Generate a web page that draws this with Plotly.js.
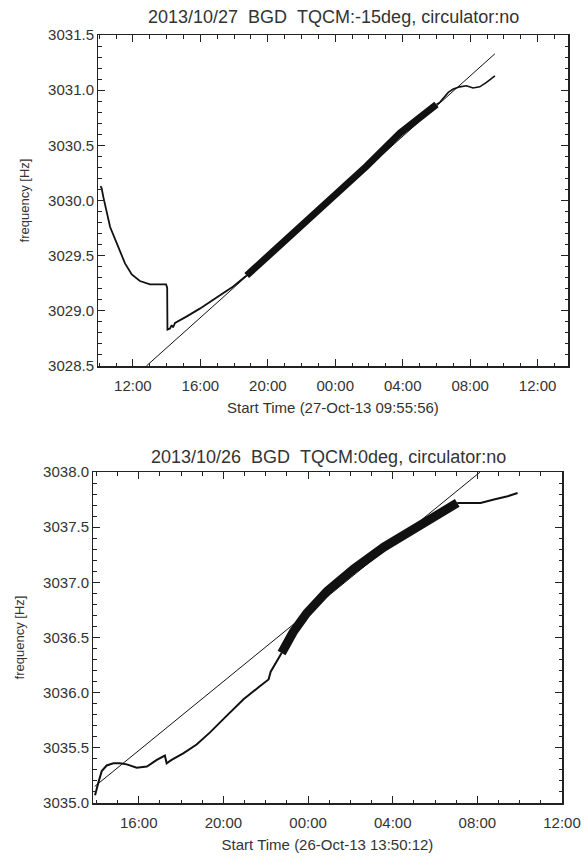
<!DOCTYPE html>
<html>
<head>
<meta charset="utf-8">
<script src="https://cdn.plot.ly/plotly-3.0.1.min.js"></script>
<style>html,body{margin:0;padding:0;background:#fff;}#chart{width:588px;height:861px;}</style>
</head>
<body>
<div id="chart"></div>
<script>
// ---------- Top panel: 2013/10/27, TQCM -15deg ----------
const topTitle = "2013/10/27\u00a0\u00a0BGD\u00a0\u00a0TQCM:-15deg, circulator:no";
const topXTitle = "Start Time (27-Oct-13 09:55:56)";
const topRange = ["2013-10-27 09:55:56", "2013-10-28 13:48:00"];
const topYRange = [3028.5, 3031.5];

// thin early part of the measurement
const topEarlyTimes = ["2013-10-27 10:05","2013-10-27 10:09","2013-10-27 10:15","2013-10-27 10:39","2013-10-27 11:08","2013-10-27 11:32","2013-10-27 11:56","2013-10-27 12:25","2013-10-27 13:01","2013-10-27 13:36","2013-10-27 13:58","2013-10-27 14:02","2013-10-27 14:03","2013-10-27 14:12","2013-10-27 14:18","2013-10-27 14:23","2013-10-27 14:30","2013-10-27 15:12","2013-10-27 15:58","2013-10-27 16:58","2013-10-27 17:57","2013-10-27 18:39","2013-10-27 18:45"];
const topEarlyFreq  = [3030.13,3030.11,3030.03,3029.76,3029.58,3029.43,3029.33,3029.27,3029.24,3029.24,3029.24,3029.21,3028.83,3028.84,3028.87,3028.85,3028.89,3028.95,3029.02,3029.12,3029.22,3029.31,3029.32];
// dense (noisy, thick) middle part
const topDenseTimes = ["2013-10-27 18:45","2013-10-27 21:54","2013-10-27 23:52","2013-10-28 01:51","2013-10-28 03:50","2013-10-28 05:48","2013-10-28 06:00"];
const topDenseFreq  = [3029.32,3029.76,3030.03,3030.31,3030.61,3030.85,3030.87];
// thin late part
const topLateTimes = ["2013-10-28 06:00","2013-10-28 06:12","2013-10-28 06:42","2013-10-28 07:00","2013-10-28 07:23","2013-10-28 07:47","2013-10-28 08:10","2013-10-28 08:34","2013-10-28 08:58","2013-10-28 09:28"];
const topLateFreq  = [3030.87,3030.89,3030.98,3031.01,3031.03,3031.04,3031.02,3031.03,3031.07,3031.13];
// linear fit
const topFitTimes = ["2013-10-27 12:48","2013-10-28 09:28"];
const topFitFreq  = [3028.50,3031.33];

// ---------- Bottom panel: 2013/10/26, TQCM 0deg ----------
const botTitle = "2013/10/26\u00a0\u00a0BGD\u00a0\u00a0TQCM:0deg, circulator:no";
const botXTitle = "Start Time (26-Oct-13 13:50:12)";
const botRange = ["2013-10-26 13:50:12", "2013-10-27 12:00:00"];
const botYRange = [3035.0, 3038.0];

const botEarlyTimes = ["2013-10-26 13:56","2013-10-26 14:00","2013-10-26 14:05","2013-10-26 14:15","2013-10-26 14:29","2013-10-26 14:48","2013-10-26 15:07","2013-10-26 15:26","2013-10-26 15:54","2013-10-26 16:23","2013-10-26 16:51","2013-10-26 17:14","2013-10-26 17:19","2013-10-26 17:33","2013-10-26 18:06","2013-10-26 18:44","2013-10-26 19:22","2013-10-26 20:09","2013-10-26 20:57","2013-10-26 21:44","2013-10-26 22:08","2013-10-26 22:14","2013-10-26 22:27","2013-10-26 22:45"];
const botEarlyFreq  = [3035.07,3035.11,3035.18,3035.29,3035.34,3035.36,3035.36,3035.35,3035.32,3035.33,3035.39,3035.43,3035.36,3035.39,3035.45,3035.53,3035.64,3035.79,3035.94,3036.06,3036.12,3036.19,3036.26,3036.36];
const botDenseTimes = ["2013-10-26 22:45","2013-10-26 23:18","2013-10-26 23:56","2013-10-27 00:54","2013-10-27 02:09","2013-10-27 03:35","2013-10-27 05:09","2013-10-27 06:16","2013-10-27 07:03"];
const botDenseFreq  = [3036.36,3036.55,3036.72,3036.92,3037.12,3037.32,3037.50,3037.63,3037.72];
const botLateTimes = ["2013-10-27 07:03","2013-10-27 07:32","2013-10-27 08:09","2013-10-27 08:47","2013-10-27 09:26","2013-10-27 09:54"];
const botLateFreq  = [3037.72,3037.72,3037.72,3037.75,3037.78,3037.81];
const botFitTimes = ["2013-10-26 13:55","2013-10-27 08:08"];
const botFitFreq  = [3035.15,3038.00];

const yTitle = "frequency [Hz]";

const ink = "#111";
function line(x, y, xa, ya, w) {
  return {x: x, y: y, xaxis: xa, yaxis: ya, type: "scatter", mode: "lines",
          line: {color: ink, width: w}, hoverinfo: "skip", showlegend: false};
}
// invisible trace spanning the time range so the frame axis autoranges onto it
function span(x, y, xa, ya) {
  return {x: x, y: y, xaxis: xa, yaxis: ya, type: "scatter", mode: "lines",
          line: {color: "rgba(0,0,0,0)", width: 0}, opacity: 0, hoverinfo: "skip", showlegend: false};
}

const data = [
  span(topRange, topYRange, "x", "y"),
  line(topEarlyTimes, topEarlyFreq, "x", "y", 1.8),
  line(topDenseTimes, topDenseFreq, "x", "y", 7),
  line(topLateTimes, topLateFreq, "x", "y", 1.6),
  line(topFitTimes, topFitFreq, "x3", "y3", 1),
  span(botRange, botYRange, "x2", "y2"),
  line(botEarlyTimes, botEarlyFreq, "x2", "y2", 2),
  line(botDenseTimes, botDenseFreq, "x2", "y2", 9),
  line(botLateTimes, botLateFreq, "x2", "y2", 2),
  line(botFitTimes, botFitFreq, "x4", "y4", 1)
];

const fontFam = "Liberation Sans, Arial, Helvetica, sans-serif";
const axisCol = "#222";
const tickFont = {size: 15, color: "#333", family: fontFam};

// frame axes: line + inside major/minor ticks on all four sides, no labels
function xFrame(domain, anchor, tick0) {
  return {
    domain: domain, anchor: anchor, type: "date", autorange: true,
    tick0: tick0, dtick: 4 * 3600000,
    ticks: "inside", ticklen: 7, tickwidth: 1, tickcolor: axisCol,
    showline: true, linecolor: axisCol, linewidth: 1.5, mirror: "ticks",
    showgrid: false, zeroline: false, showticklabels: false,
    minor: {dtick: 3600000, ticks: "inside", ticklen: 3.5}
  };
}
function yFrame(domain, anchor, range) {
  return {
    domain: domain, anchor: anchor, range: range,
    tick0: range[0], dtick: 0.5,
    ticks: "inside", ticklen: 7, tickwidth: 1, tickcolor: axisCol,
    showline: true, linecolor: axisCol, linewidth: 1.5, mirror: "ticks",
    showgrid: false, zeroline: false, showticklabels: false,
    minor: {dtick: 0.1, ticks: "inside", ticklen: 3.5}
  };
}
// label axes: overlay the frame axes, carry tick labels and titles, set slightly off the frame
function xLabels(domain, over, pos, range, tick0, title) {
  return {
    domain: domain, overlaying: over, anchor: "free", position: pos, side: "bottom",
    type: "date", range: range,
    tick0: tick0, dtick: 4 * 3600000, tickformat: "%H:%M",
    ticks: "", showline: false, showgrid: false, zeroline: false,
    tickfont: tickFont,
    title: {text: title, font: {size: 15, color: "#333", family: fontFam}, standoff: 9},
    fixedrange: true
  };
}
function yLabels(domain, over, pos, range) {
  return {
    domain: domain, overlaying: over, anchor: "free", position: pos, side: "left",
    range: range,
    tick0: range[0], dtick: 0.5, tickformat: ".1f",
    ticks: "", showline: false, showgrid: false, zeroline: false,
    tickfont: tickFont,
    title: {text: yTitle, font: {size: 13, color: "#333", family: fontFam}, standoff: 14},
    fixedrange: true
  };
}

const W = 588, H = 861;
const topXDom = [98 / W, 568 / W], topYDom = [1 - 366 / H, 1 - 35 / H];
const botXDom = [93 / W, 562 / W], botYDom = [1 - 803 / H, 1 - 472 / H];

const layout = {
  width: W, height: H,
  margin: {l: 0, r: 0, t: 0, b: 0},
  paper_bgcolor: "#fff", plot_bgcolor: "#fff",
  font: {family: fontFam, color: "#333"},
  showlegend: false,
  xaxis: xFrame(topXDom, "y", "2013-10-27 00:00"),
  yaxis: yFrame(topYDom, "x", topYRange),
  xaxis2: xFrame(botXDom, "y2", "2013-10-26 00:00"),
  yaxis2: yFrame(botYDom, "x2", botYRange),
  xaxis3: xLabels(topXDom, "x", topYDom[0] - 9 / H, topRange, "2013-10-27 00:00", topXTitle),
  yaxis3: yLabels(topYDom, "y", topXDom[0] - 4 / W, topYRange),
  xaxis4: xLabels(botXDom, "x2", botYDom[0] - 9 / H, botRange, "2013-10-26 00:00", botXTitle),
  yaxis4: yLabels(botYDom, "y2", botXDom[0] - 4 / W, botYRange),
  annotations: [
    {text: topTitle, xref: "paper", yref: "paper", x: 333 / W, y: 1 - 17 / H,
     xanchor: "center", yanchor: "middle", showarrow: false,
     font: {size: 18, color: "#333", family: fontFam}},
    {text: botTitle, xref: "paper", yref: "paper", x: 328 / W, y: 1 - 457 / H,
     xanchor: "center", yanchor: "middle", showarrow: false,
     font: {size: 18, color: "#333", family: fontFam}}
  ]
};

Plotly.newPlot("chart", data, layout, {staticPlot: true, displayModeBar: false});
</script>
</body>
</html>
